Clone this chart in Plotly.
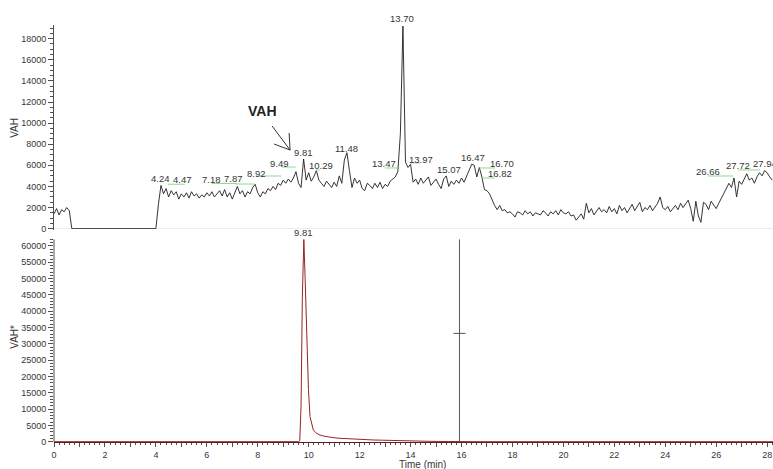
import plotly.graph_objects as go

# ---- Upper trace: total signal, sampled every 0.1 min from 0.0 min ----
tic_step = 0.1
tic_counts = [
    1400, 1900, 1300, 1800, 1600, 2000, 1700, 0, 0, 0,            # 0.x
    0, 0, 0, 0, 0, 0, 0, 0, 0, 0,                                 # 1.x
    0, 0, 0, 0, 0, 0, 0, 0, 0, 0,                                 # 2.x
    0, 0, 0, 0, 0, 0, 0, 0, 0, 0,                                 # 3.x
    0, 2300, 4100, 3300, 3800, 3000, 3600, 3200, 3500, 2800,      # 4.x
    3300, 3000, 3400, 2900, 3500, 3100, 3300, 2900, 3200, 3000,   # 5.x
    3400, 3100, 3500, 3000, 3300, 3600, 3100, 3700, 3000, 3400,   # 6.x
    2800, 3500, 4000, 3300, 3600, 3000, 3500, 3300, 3900, 4200,   # 7.x
    3400, 3000, 3500, 3300, 3800, 3600, 4000, 3700, 4300, 4100,   # 8.x
    4600, 4300, 4700, 4400, 4800, 5400, 4300, 3900, 6600, 4600,   # 9.x
    5300, 4500, 4900, 5500, 4600, 4300, 4000, 4500, 4200, 3900,   # 10.x
    4400, 4000, 5000, 4300, 6500, 7200, 5500, 3900, 4800, 4300,   # 11.x
    4600, 3800, 3600, 4300, 4100, 3800, 4300, 3900, 4400, 3800,   # 12.x
    4200, 4000, 4500, 4700, 4900, 5400, 9000, 19200, 6300, 5800,  # 13.x
    6100, 4400, 4700, 4200, 4800, 4300, 4600, 4900, 4100, 4400,   # 14.x
    4700, 4200, 3800, 4700, 5000, 4000, 4500, 4200, 4600, 4300,   # 15.x
    4800, 4400, 5000, 5500, 6100, 6000, 4900, 5800, 4900, 3700,   # 16.x
    3600, 3300, 2700, 2200, 1800, 2200, 1700, 1800, 1500, 1600,   # 17.x
    1400, 1100, 1600, 1500, 1300, 1700, 1400, 1600, 1200, 1500,   # 18.x
    1400, 1300, 1700, 1500, 1200, 1600, 1400, 1700, 1300, 1800,   # 19.x
    1500, 1400, 1600, 1200, 1300, 800, 1100, 1400, 900, 2400,     # 20.x
    1500, 1900, 1300, 1700, 2000, 1600, 1800, 1500, 2100, 1600,   # 21.x
    1900, 1400, 2200, 1700, 2000, 1500, 1900, 2300, 1700, 2100,   # 22.x
    2500, 1600, 2000, 1800, 2200, 1700, 2100, 2400, 3000, 2000,   # 23.x
    1800, 2100, 1600, 1900, 2200, 1800, 2400, 2000, 2300, 2700,   # 24.x
    1900, 700, 2600, 1200, 600, 2500, 2300, 1800, 2600, 2200,     # 25.x
    1900, 2400, 2900, 3400, 3800, 4300, 3900, 4800, 3000, 4500,   # 26.x
    4200, 4700, 5200, 4600, 4800, 4300, 4900, 5300, 5000, 5500,   # 27.x
    5300, 4900, 4600,                                             # 28.x
]
tic_time = [round(i * tic_step, 2) for i in range(len(tic_counts))]

# ---- Lower trace: extracted ion signal ----
eic_time = [0.0, 9.60, 9.65, 9.70, 9.75, 9.81, 9.86, 9.92, 9.99, 10.05, 10.12,
            10.18, 10.30, 10.44, 10.60, 10.80, 11.00, 11.23, 11.50, 11.80,
            12.10, 12.53, 12.90, 13.30, 13.85, 14.30, 14.80, 15.50, 16.50, 28.24]
eic_counts = [0, 0, 300, 11000, 44000, 62000, 50000, 34000, 16000, 7700, 5000,
              3600, 2600, 2050, 1700, 1400, 1200, 1040, 900, 750,
              650, 520, 450, 350, 200, 150, 100, 50, 0, 0]

# ---- Peak annotations (retention times, min) ----
peak_times = [4.24, 4.47, 7.18, 7.87, 8.92, 9.49, 9.81, 10.29, 11.48, 13.47,
              13.70, 13.97, 15.07, 16.47, 16.70, 16.82, 26.66, 27.72, 27.94]
eic_peak_time = 9.81
eic_peak_height = 62000
cursor_time = 15.92
cursor_cross = 33200

# axis tick labels
x_tick_vals = list(range(0, 29))
x_tick_text = [str(v) if v % 2 == 0 else "" for v in x_tick_vals]
y_top_ticks = list(range(0, 18001, 2000))
y_bottom_ticks = list(range(0, 60001, 5000))

# label placement (x, y, extra pixel lift) for each peak, upper-panel data units
label_xy = [(4.20, 4800, 0), (5.06, 4690, 0), (6.20, 4690, 0), (7.03, 4800, 0),
            (7.97, 5270, 0), (8.87, 6130, 0), (9.78, 7170, 0), (10.48, 5940, 0),
            (11.50, 7640, 0), (12.96, 6130, 0), (13.66, 19200, 8), (14.41, 6600, 0),
            (15.51, 5650, 0), (16.45, 6700, 0), (17.59, 6130, 0), (17.51, 5180, 0),
            (25.68, 5370, 0), (26.86, 6030, 0), (27.92, 6130, 0)]
# green leader lines: peak time -> (far end x, y)
leaders = {4.47: (5.14, 4210), 7.18: (6.20, 4280), 7.87: (7.11, 4230),
           8.92: (7.97, 4990), 9.49: (8.95, 5840), 10.29: (10.44, 5560),
           13.47: (13.00, 5750), 13.97: (14.37, 6220), 15.07: (15.43, 5320),
           16.70: (17.31, 5750), 16.82: (17.31, 4800), 26.66: (25.68, 4990),
           27.72: (26.86, 5560)}

FONT = "Liberation Sans, Arial, sans-serif"
TXT = "#363636"
AX = "#505050"
X_MAX = 28.23

fig = go.Figure()
fig.add_trace(go.Scatter(x=tic_time, y=tic_counts, mode="lines",
                         line=dict(color="#1e1e1e", width=0.9),
                         xaxis="x", yaxis="y", hoverinfo="skip"))
fig.add_trace(go.Scatter(x=eic_time, y=eic_counts, mode="lines",
                         line=dict(color="#9b2323", width=1.0),
                         xaxis="x2", yaxis="y2", hoverinfo="skip"))

shapes = []
annotations = []

# grey background of the lower panel
shapes.append(dict(type="rect", xref="x2 domain", yref="y2 domain",
                   x0=0, x1=1, y0=0, y1=1, fillcolor="#f0f0f0",
                   line=dict(width=0), layer="below"))
shapes.append(dict(type="line", xref="x2 domain", yref="y2 domain",
                   x0=0, x1=1, y0=1, y1=1, line=dict(color="#dadada", width=1),
                   layer="below"))
# lower y-axis line (stops at the top of the peak scale)
shapes.append(dict(type="line", xref="paper", yref="y2", x0=0, x1=0,
                   y0=0, y1=eic_peak_height, line=dict(color=AX, width=1)))

# peak labels and leader lines
for t, (lx, ly, lift) in zip(peak_times, label_xy):
    annotations.append(dict(x=lx, y=ly, xref="x", yref="y", text=f"{t:.2f}",
                            showarrow=False, xanchor="center", yanchor="middle",
                            yshift=lift,
                            font=dict(family=FONT, size=9.5, color=TXT)))
    if t in leaders:
        ex, ey = leaders[t]
        shapes.append(dict(type="line", xref="x", yref="y", x0=t, x1=ex,
                           y0=ey, y1=ey, line=dict(color="#8fdc8f", width=1)))

# label over the lower peak
annotations.append(dict(x=eic_peak_time, y=64000, xref="x2", yref="y2",
                        text=f"{eic_peak_time:.2f}", showarrow=False,
                        xanchor="center", yanchor="middle",
                        font=dict(family=FONT, size=9.5, color=TXT)))

# compound call-out with an open arrow
annotations.append(dict(x=8.17, y=11150, xref="x", yref="y", text="<b>VAH</b>",
                        showarrow=False, xanchor="center", yanchor="middle",
                        font=dict(family=FONT, size=14, color="#222222")))
shapes.append(dict(type="path", xref="x", yref="y", xsizemode="pixel",
                   ysizemode="pixel", xanchor=9.27, yanchor=7450,
                   path="M -18 24 L 0 0 M -1 17 L 0 0 L -16 6",
                   line=dict(color="#333333", width=1)))

# cursor line with cross-hair in the lower panel
shapes.append(dict(type="line", xref="x2", yref="y2", x0=cursor_time, x1=cursor_time,
                   y0=0, y1=eic_peak_height, line=dict(color="#555555", width=1)))
shapes.append(dict(type="line", xref="x2", yref="y2", xsizemode="pixel",
                   xanchor=cursor_time, x0=-6, x1=6, y0=cursor_cross, y1=cursor_cross,
                   line=dict(color="#555555", width=1)))

# axis titles
annotations.append(dict(x=-0.0545, y=0.753, xref="paper", yref="paper", text="VAH",
                        textangle=-90, showarrow=False, xanchor="center",
                        yanchor="middle", font=dict(family=FONT, size=10, color=TXT)))
annotations.append(dict(x=-0.0545, y=0.252, xref="paper", yref="paper", text="VAH*",
                        textangle=-90, showarrow=False, xanchor="center",
                        yanchor="middle", font=dict(family=FONT, size=10, color=TXT)))
annotations.append(dict(x=0.512, y=-0.055, xref="paper", yref="paper",
                        text="Time (min)", showarrow=False, xanchor="center",
                        yanchor="middle", font=dict(family=FONT, size=10, color=TXT)))

tickfont = dict(family=FONT, size=9, color=TXT)

fig.update_layout(
    width=773, height=469,
    margin=dict(l=54, r=0, t=25, b=27),
    paper_bgcolor="white", plot_bgcolor="white",
    showlegend=False,
    shapes=shapes, annotations=annotations,
    xaxis=dict(domain=[0, 1], anchor="y", range=[0, X_MAX], matches="x2",
               showticklabels=False, ticks="", showgrid=False, zeroline=False,
               showline=False),
    yaxis=dict(domain=[0.5091, 1], anchor="x", range=[-100, 19300],
               tickmode="array", tickvals=y_top_ticks,
               ticktext=[str(v) for v in y_top_ticks], ticks="outside",
               ticklen=5, tickcolor=AX, showline=True, linecolor=AX, linewidth=1,
               showgrid=False, zeroline=False, tickfont=tickfont,
               minor=dict(tickmode="array",
                          tickvals=[v for v in range(0, 19001, 500) if v % 2000],
                          ticks="outside", ticklen=3, tickcolor=AX)),
    xaxis2=dict(domain=[0, 1], anchor="y2", range=[0, X_MAX],
                tickmode="array", tickvals=x_tick_vals, ticktext=x_tick_text,
                ticks="outside", ticklen=4, tickcolor=AX, showline=True,
                linecolor="#5a2020", linewidth=1, showgrid=False, zeroline=False,
                tickfont=tickfont,
                minor=dict(tickmode="linear", tick0=0, dtick=0.2, ticks="outside",
                           ticklen=2, tickcolor=AX)),
    yaxis2=dict(domain=[0, 0.5108], anchor="x2", range=[-100, 65200],
                tickmode="array", tickvals=y_bottom_ticks,
                ticktext=[str(v) for v in y_bottom_ticks], ticks="outside",
                ticklen=5, tickcolor=AX, showline=False, showgrid=False,
                zeroline=False, tickfont=tickfont,
                minor=dict(tickmode="array",
                           tickvals=[v for v in range(0, 62001, 1000) if v % 5000],
                           ticks="outside", ticklen=3, tickcolor=AX)),
)

fig.write_html("out.html")
